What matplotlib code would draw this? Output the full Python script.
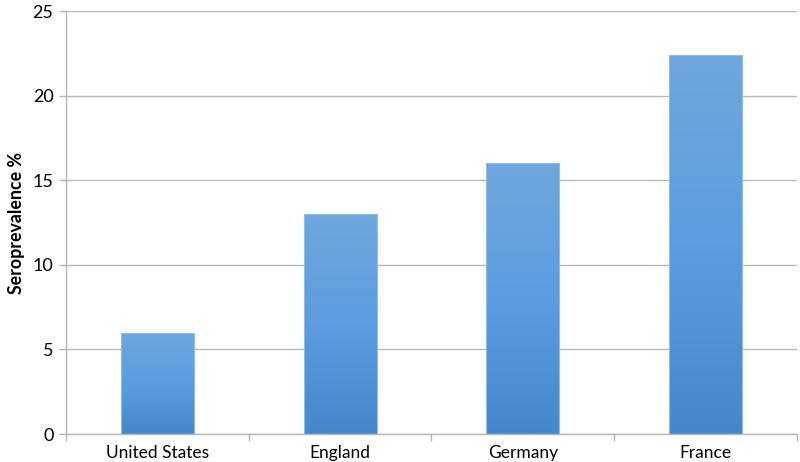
import numpy as np
import matplotlib.pyplot as plt
from matplotlib.colors import LinearSegmentedColormap

countries = ['United States', 'England', 'Germany', 'France']
seroprevalence = [6.0, 13.0, 16.0, 22.4]

plt.rcParams['font.family'] = ['Lato', 'DejaVu Sans']

fig = plt.figure(figsize=(8, 4.62), dpi=100)
ax = fig.add_axes([0.0825, 0.0606, 0.9135, 0.9154])

x = np.arange(len(countries))
bars = ax.bar(x, seroprevalence, width=0.4, color='none', edgecolor='#8fbde8',
              linewidth=0.8, zorder=3)

# gradient fill, lighter at the top
cmap = LinearSegmentedColormap.from_list('bar', ['#4488ca', '#5b9de0', '#6fa7dd'])
grad = np.linspace(0, 1, 256).reshape(-1, 1)
for b in bars:
    x0, y0 = b.get_x(), b.get_y()
    w, h = b.get_width(), b.get_height()
    im = ax.imshow(grad, extent=(x0, x0 + w, y0, y0 + h), origin='lower',
                   cmap=cmap, aspect='auto', zorder=2)
    im.set_clip_path(b)

ax.set_xlim(-0.5, len(countries) - 0.5)
ax.set_ylim(0, 25)
ax.set_yticks([0, 5, 10, 15, 20, 25])
ax.set_xticks(x)
ax.set_xticklabels(countries, fontsize=12.5)
ax.set_xticks(np.arange(-0.5, len(countries)), minor=True)
ax.tick_params(axis='x', which='major', length=0, pad=8)
ax.tick_params(axis='x', which='minor', length=5, color='#b5b5b5', width=1)
ax.tick_params(axis='y', length=5, color='#b5b5b5', width=1, labelsize=13, pad=4)

ax.grid(axis='y', color='#b8b8b8', linewidth=1, zorder=0)
ax.set_axisbelow(True)
for s in ['top', 'right']:
    ax.spines[s].set_visible(False)
for s in ['left', 'bottom']:
    ax.spines[s].set_color('#b5b5b5')
    ax.spines[s].set_linewidth(1)

ax.set_ylabel('Seroprevalence %', fontsize=12.8, fontweight='bold')
ax.yaxis.set_label_coords(-0.056, 0.5)

fig.savefig('out.png', dpi=100)
